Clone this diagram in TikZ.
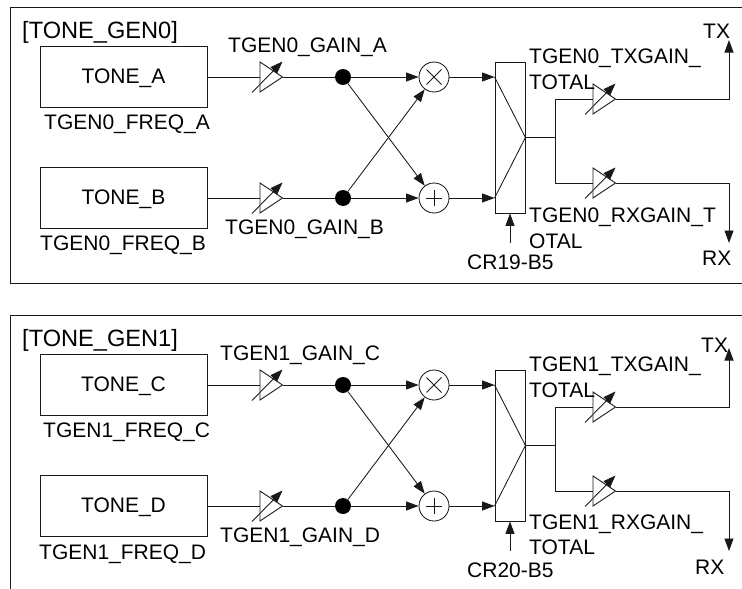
\documentclass[tikz,border=0pt]{standalone}
\usepackage{fontspec}
\setmainfont{Liberation Sans}
\usetikzlibrary{arrows.meta}
\definecolor{ink}{gray}{0.1}
\tikzset{
  wire/.style={draw=ink,line width=0.85pt},
  flow/.style={wire,-{Stealth[length=12.5pt,width=9pt,inset=0pt]}},
  lbl/.style={font=\fontsize{21}{24}\selectfont,anchor=base west,inner sep=0pt,text=black},
  ttl/.style={lbl,font=\fontsize{23.6}{26}\selectfont},
  tonebox/.style={wire,minimum width=167pt,minimum height=60.5pt,inner sep=0pt,text height=15pt,text depth=1.5pt,font=\fontsize{21}{24}\selectfont,text=black},
  mixer/.style={wire,circle,minimum size=30pt,inner sep=0pt},
  tap/.style={circle,fill=black,minimum size=16pt,inner sep=0pt},
  muxbox/.style={wire,minimum width=30pt,minimum height=151pt,inner sep=0pt},
  amp/.pic={
    \draw[wire] (0,-15) -- (22.5,0) -- (0,15) -- cycle;
    \draw[wire,-{Stealth[length=12.5pt,width=9pt,inset=0pt]}] (-8,15.5) -- (22.5,-15.5);
    \coordinate (-in) at (0,0);
    \coordinate (-out) at (22.5,0);
  }
}
% #1 prefix, #2 tone upper, #3 tone lower, #4 vertical shift
\newcommand{\tonepanel}[4]{%
\begin{scope}[yshift=-#4pt]
  \node[tonebox] (#1ta) at (123.5,77) {#2};
  \node[tonebox] (#1tb) at (123.5,198) {#3};
  \pic (#1aa) at (260,77) {amp};
  \pic (#1ab) at (260,198) {amp};
  \node[tap] (#1da) at (343,77) {};
  \node[tap] (#1db) at (343,198) {};
  \node[mixer] (#1mx) at (434,77) {};
  \node[mixer] (#1ad) at (434,198) {};
  \draw[wire] (426.5,69.5) -- (441.5,84.5) (441.5,69.5) -- (426.5,84.5);
  \draw[wire] (426,198) -- (442,198) (434,190) -- (434,206);
  \node[muxbox] (#1mux) at (510,137.5) {};
  \pic (#1at) at (593,99) {amp};
  \pic (#1ar) at (593,183) {amp};
  \coordinate (#1sp) at (555.5,137.5);
  \coordinate (#1tx) at (729,40);
  \coordinate (#1rx) at (729,243);
  \coordinate (#1cr) at (510,243);
  \draw[wire] (#1ta) -- (#1aa-in);
  \draw[wire] (#1tb) -- (#1ab-in);
  \draw[wire] (#1aa-out) -- (#1da);
  \draw[wire] (#1ab-out) -- (#1db);
  \draw[flow] (#1da) -- (#1mx);
  \draw[flow] (#1db) -- (#1ad);
  \draw[flow] (#1da) -- (#1ad);
  \draw[flow] (#1db) -- (#1mx);
  \draw[flow] (#1mx) -- (#1mx -| #1mux.west);
  \draw[flow] (#1ad) -- (#1ad -| #1mux.west);
  \draw[wire,line join=bevel] (#1mx -| #1mux.west) -- (#1mux.east) -- (#1ad -| #1mux.west);
  \draw[wire] (#1mux.east) -- (#1sp);
  \draw[wire] (#1at-in) -| (#1sp) |- (#1ar-in);
  \draw[flow] (#1at-out) -| (#1tx);
  \draw[flow] (#1ar-out) -| (#1rx);
  \draw[flow] (#1cr) -- (#1mux.south);
\end{scope}}
\begin{document}
\begin{tikzpicture}[x=1pt,y=-1pt]
\useasboundingbox (0,0) rectangle (742,589);
\draw[wire] (742,7) -- (10,7) -- (10,283) -- (742,283);
\draw[wire] (742,315) -- (10,315) -- (10,589);
\tonepanel{p}{TONE\_A}{TONE\_B}{0}
\tonepanel{q}{TONE\_C}{TONE\_D}{308}
\node[ttl] (l1) at (22,38) {[TONE\_GEN0]};
\node[lbl] (l2) at (228,52.5) {TGEN0\_GAIN\_A};
\node[lbl] (l3) at (44,129.5) {TGEN0\_FREQ\_A};
\node[lbl] (l4) at (225,234.5) {TGEN0\_GAIN\_B};
\node[lbl] (l5) at (40,250.5) {TGEN0\_FREQ\_B};
\node[lbl] (l6) at (529,63) {TGEN0\_TXGAIN\_};
\node[lbl] (l7) at (529,89.5) {TOTAL};
\node[lbl] (l8) at (529,222) {TGEN0\_RXGAIN\_T};
\node[lbl] (l9) at (529,248.5) {OTAL};
\node[lbl] (l10) at (467,269) {CR19-B5};
\node[lbl] (l11) at (703,38.5) {TX};
\node[lbl] (l12) at (702,265.5) {RX};
\node[ttl] (m1) at (22,346) {[TONE\_GEN1]};
\node[lbl] (m2) at (220,360.5) {TGEN1\_GAIN\_C};
\node[lbl] (m3) at (43,437) {TGEN1\_FREQ\_C};
\node[lbl] (m4) at (220,542.5) {TGEN1\_GAIN\_D};
\node[lbl] (m5) at (39,559) {TGEN1\_FREQ\_D};
\node[lbl] (m6) at (529,371) {TGEN1\_TXGAIN\_};
\node[lbl] (m7) at (529,397) {TOTAL};
\node[lbl] (m8) at (529,529) {TGEN1\_RXGAIN\_};
\node[lbl] (m9) at (529,554) {TOTAL};
\node[lbl] (m10) at (467,577) {CR20-B5};
\node[lbl] (m11) at (701,352) {TX};
\node[lbl] (m12) at (695,574) {RX};
\end{tikzpicture}
\end{document}
